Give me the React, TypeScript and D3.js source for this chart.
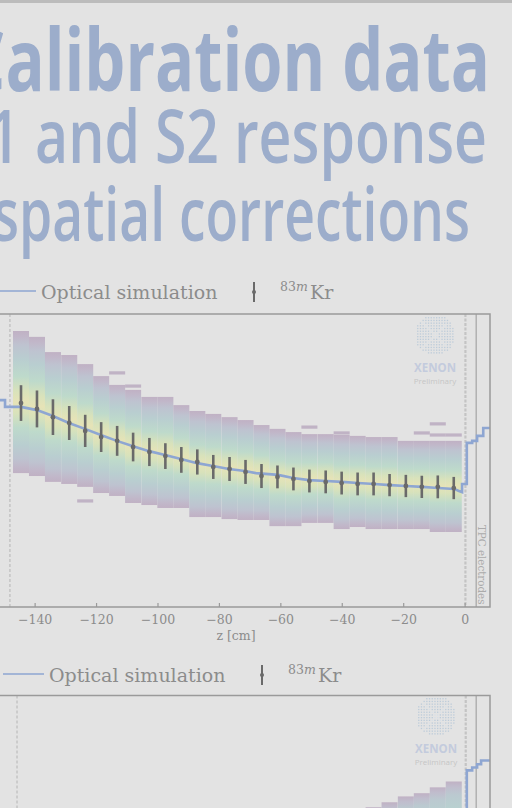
import React from 'react';
import * as d3 from 'd3';

const W = 512;
const H = 808;
const BG = '#e3e3e3';

// z bin centres [cm] of the Kr calibration profile
const zCenters = [-144.6, -139.4, -134.2, -128.9, -123.7, -118.5, -113.3, -108.1, -102.8, -97.6, -92.4, -87.2, -82.0, -76.7, -71.5, -66.3, -61.1, -55.9, -50.7, -45.4, -40.2, -35.0, -29.8, -24.6, -19.3, -14.1, -8.9, -3.7];
const binWidth = 5.22;

// 83mKr S1 response (relative) and its spread per z bin
const krS1 = [1.296, 1.276, 1.248, 1.228, 1.201, 1.180, 1.167, 1.146, 1.129, 1.115, 1.102, 1.095, 1.078, 1.071, 1.061, 1.047, 1.044, 1.037, 1.030, 1.027, 1.023, 1.020, 1.020, 1.016, 1.013, 1.010, 1.010, 1.006];
const krS1Err = [0.061, 0.063, 0.061, 0.058, 0.055, 0.051, 0.051, 0.049, 0.048, 0.044, 0.044, 0.043, 0.041, 0.041, 0.041, 0.041, 0.039, 0.039, 0.039, 0.039, 0.039, 0.039, 0.039, 0.038, 0.038, 0.038, 0.039, 0.038];

// populated extent of the 2D histogram per z bin
const bandHigh = [1.542, 1.522, 1.470, 1.460, 1.429, 1.388, 1.358, 1.341, 1.317, 1.317, 1.289, 1.269, 1.259, 1.248, 1.238, 1.221, 1.208, 1.197, 1.190, 1.190, 1.187, 1.184, 1.180, 1.180, 1.167, 1.167, 1.167, 1.167];
const bandLow = [1.057, 1.047, 1.027, 1.020, 1.010, 0.989, 0.979, 0.955, 0.948, 0.938, 0.938, 0.907, 0.907, 0.900, 0.897, 0.897, 0.876, 0.876, 0.887, 0.887, 0.866, 0.873, 0.866, 0.866, 0.866, 0.866, 0.856, 0.856];

// sparse histogram cells outside the main band
const strayBin = [6, 7, 4, 18, 20, 25, 26, 26, 27];
const strayS1 = [1.399, 1.354, 0.962, 1.214, 1.194, 1.194, 1.225, 1.187, 1.187];
const cellHalf = 0.0055;

// optical simulation (step profile)
const simZ = [-157.3, -149.8, -149.8, -144.6, -139.4, -134.2, -129.0, -123.8, -118.6, -113.4, -108.1, -102.9, -97.7, -92.5, -87.3, -82.1, -76.9, -71.7, -68.1, -60.9, -56.0, -50.8, -45.3, -40.1, -34.9, -29.6, -24.4, -19.2, -14.0, -8.8, -3.6, -2.0, -1.0, -1.0, 0.55, 0.55, 2.3, 2.3, 3.9, 3.9, 5.9, 5.9, 8.1];
const simV = [1.306, 1.306, 1.283, 1.283, 1.272, 1.252, 1.228, 1.208, 1.187, 1.167, 1.149, 1.132, 1.119, 1.105, 1.091, 1.081, 1.071, 1.064, 1.057, 1.051, 1.040, 1.033, 1.030, 1.027, 1.023, 1.020, 1.016, 1.013, 1.010, 1.006, 1.003, 0.996, 0.992, 1.020, 1.020, 1.160, 1.160, 1.167, 1.167, 1.184, 1.184, 1.211, 1.211];

// second panel
const lowerBins = [22, 23, 24, 25, 26, 27];
const lowerHigh = [1.218, 1.235, 1.255, 1.266, 1.286, 1.306];
const lowerLow = [0.88, 0.89, 0.90, 0.91, 0.92, 0.93];
const lowerSimZ = [0.55, 0.55, 2.3, 2.3, 3.9, 3.9, 5.2, 5.2, 8.1];
const lowerSimV = [1.2, 1.344, 1.344, 1.354, 1.354, 1.365, 1.365, 1.378, 1.378];

const xTicks = [-140, -120, -100, -80, -60, -40, -20, 0];

const titleColor = '#9cadcb';
const axisColor = '#9a9a9a';
const textColor = '#8c8c8c';
const simColor = '#8ea6d2';
const krColor = '#6a6a6a';
const serif = "'DejaVu Serif', serif";

const tint = (t: number) => d3.interpolateRgb(BG, d3.interpolateViridis(t))(0.22);
const bandStops: [number, number][] = [
  [0, 0.0], [0.04, 0.08], [0.1, 0.25], [0.2, 0.45], [0.32, 0.68], [0.42, 0.88], [0.5, 0.98],
  [0.58, 0.88], [0.68, 0.68], [0.8, 0.45], [0.9, 0.25], [0.96, 0.08], [1, 0.0],
];
const lowerStops: [number, number][] = [[0, 0.0], [0.05, 0.15], [0.12, 0.35], [0.25, 0.5], [0.5, 0.75], [1, 0.95]];

const fmt = (v: number) => (v < 0 ? '\u2212' + Math.abs(v) : String(v));

function Watermark({ cx, cy }: { cx: number; cy: number }) {
  const r = 20;
  const step = 2.7;
  const dots: JSX.Element[] = [];
  for (let gx = -r; gx <= r; gx += step) {
    for (let gy = -r; gy <= r; gy += step) {
      if (gx * gx + gy * gy > r * r) continue;
      const onX = Math.abs(Math.abs(gx) - Math.abs(gy)) < 2 && Math.abs(gx) < 12;
      dots.push(<rect key={`${gx}-${gy}`} x={cx + gx - 0.6} y={cy + gy - 0.6} width={1.3} height={1.3} fill={onX ? '#d6dee6' : '#bccbd9'} />);
    }
  }
  return (
    <g>
      {dots}
      <text x={cx} y={cy + 37} textAnchor="middle" fontFamily="'Open Sans', sans-serif" fontWeight={700} fontSize={11.5} fill="#c3cbdd">XENON</text>
      <text x={cx} y={cy + 49} textAnchor="middle" fontFamily="'Open Sans', sans-serif" fontSize={8} fill="#c6c6c6">Preliminary</text>
    </g>
  );
}

function Legend({ x0, y }: { x0: number; y: number }) {
  return (
    <g>
      <line x1={x0 - 5} x2={x0 + 36} y1={y - 8} y2={y - 8} stroke={simColor} strokeWidth={1.6} />
      <text x={x0 + 41} y={y} fontFamily={serif} fontSize={19} fill={textColor}>Optical simulation</text>
      <line x1={x0 + 254} x2={x0 + 254} y1={y - 17} y2={y + 3} stroke={krColor} strokeWidth={2} />
      <circle cx={x0 + 254} cy={y - 7} r={2} fill={krColor} />
      <text x={x0 + 280} y={y - 8} fontFamily={serif} fontSize={12.5} fill={textColor}>
        83<tspan fontStyle="italic">m</tspan>
      </text>
      <text x={x0 + 310} y={y} fontFamily={serif} fontSize={19} fill={textColor}>Kr</text>
    </g>
  );
}

export default function App() {
  const x = d3.scaleLinear().domain([-157.3, 8.1]).range([-18, 490]);
  const yTop = d3.scaleLinear().domain([0.6, 1.6]).range([607, 314]);
  const yLow = d3.scaleLinear().domain([0.6, 1.6]).range([988, 695.5]);
  const left = x.range()[0];
  const right = x.range()[1];

  const simLine = d3.line<number>().x((_, i) => x(simZ[i])).y((v) => yTop(v));
  const lowerLine = d3.line<number>().x((_, i) => x(lowerSimZ[i])).y((v) => yLow(v));

  return (
    <svg width={W} height={H} style={{ position: 'absolute', left: 0, top: 0 }} xmlns="http://www.w3.org/2000/svg">
      <defs>
        <linearGradient id="band" x1="0" y1="0" x2="0" y2="1">
          {bandStops.map(([o, t], i) => (
            <stop key={i} offset={o} stopColor={tint(t)} />
          ))}
        </linearGradient>
        <linearGradient id="bandLower" x1="0" y1="0" x2="0" y2="1">
          {lowerStops.map(([o, t], i) => (
            <stop key={i} offset={o} stopColor={tint(t)} />
          ))}
        </linearGradient>
        <clipPath id="clipTop">
          <rect x={left} y={314} width={right - left} height={293} />
        </clipPath>
        <clipPath id="clipLow">
          <rect x={left} y={695.5} width={right - left} height={293} />
        </clipPath>
      </defs>
      <rect width={W} height={H} fill={BG} />
      <rect width={W} height={3} fill="#bcbcbc" />

      {/* headline */}
      <g fill={titleColor} fontFamily="'Open Sans', sans-serif">
        <text x={-36} y={91} fontSize={86} fontWeight={700} textLength={526} lengthAdjust="spacingAndGlyphs">Calibration data</text>
        <text x={-44} y={163} fontSize={74} fontWeight={600} textLength={531} lengthAdjust="spacingAndGlyphs">S1 and S2 response</text>
        <text x={-7} y={241} fontSize={75} fontWeight={600} textLength={477} lengthAdjust="spacingAndGlyphs">spatial corrections</text>
      </g>

      {/* upper panel */}
      <Legend x0={0} y={299} />
      <g clipPath="url(#clipTop)">
        <Watermark cx={435} cy={335} />
        {zCenters.map((z, i) => (
          <rect key={i} x={x(z - binWidth / 2)} width={x(z + binWidth / 2) - x(z - binWidth / 2)} y={yTop(bandHigh[i])} height={yTop(bandLow[i]) - yTop(bandHigh[i])} fill="url(#band)" />
        ))}
        {strayBin.map((b, i) => (
          <rect key={`s${i}`} x={x(zCenters[b] - binWidth / 2)} width={x(zCenters[b] + binWidth / 2) - x(zCenters[b] - binWidth / 2)} y={yTop(strayS1[i] + cellHalf)} height={yTop(strayS1[i] - cellHalf) - yTop(strayS1[i] + cellHalf)} fill={tint(0.02)} />
        ))}
        <line x1={x(-148.2)} x2={x(-148.2)} y1={314} y2={607} stroke="#b4b4b4" strokeWidth={1} strokeDasharray="3,2" />
        <line x1={x(0.1)} x2={x(0.1)} y1={314} y2={607} stroke="#c4c4c4" strokeWidth={2.2} strokeDasharray="3,1.5" />
        <line x1={x(3.6)} x2={x(3.6)} y1={314} y2={607} stroke="#a4a4a4" strokeWidth={1.2} />
        <path d={simLine(simV) ?? ''} fill="none" stroke={simColor} strokeWidth={2.6} strokeLinejoin="miter" />
        {zCenters.map((z, i) => (
          <g key={`k${i}`}>
            <line x1={x(z)} x2={x(z)} y1={yTop(krS1[i] + krS1Err[i])} y2={yTop(krS1[i] - krS1Err[i])} stroke={krColor} strokeWidth={2.6} />
            <circle cx={x(z)} cy={yTop(krS1[i])} r={2.4} fill={krColor} />
          </g>
        ))}
        <text transform={`translate(${x(3.6) + 2},525) rotate(90)`} fontFamily={serif} fontSize={10.3} fill="#ababab">TPC electrodes</text>
      </g>
      <rect x={left} y={314} width={right - left} height={293} fill="none" stroke={axisColor} strokeWidth={1.5} />
      {xTicks.map((t) => (
        <g key={t}>
          <line x1={x(t)} x2={x(t)} y1={607} y2={603} stroke={axisColor} strokeWidth={1.2} />
          <text x={x(t)} y={623.5} textAnchor="middle" fontFamily={serif} fontSize={12.5} fill={textColor}>{fmt(t)}</text>
        </g>
      ))}
      <text x={(left + right) / 2} y={640} textAnchor="middle" fontFamily={serif} fontSize={12.5} fill={textColor}>z [cm]</text>

      {/* lower panel */}
      <Legend x0={8} y={682} />
      <g clipPath="url(#clipLow)">
        <Watermark cx={436} cy={716} />
        {lowerBins.map((b, i) => (
          <rect key={i} x={x(zCenters[b] - binWidth / 2)} width={x(zCenters[b] + binWidth / 2) - x(zCenters[b] - binWidth / 2)} y={yLow(lowerHigh[i])} height={yLow(lowerLow[i]) - yLow(lowerHigh[i])} fill="url(#bandLower)" />
        ))}
        <line x1={x(-145.9)} x2={x(-145.9)} y1={695.5} y2={988} stroke="#b4b4b4" strokeWidth={1} strokeDasharray="3,2" />
        <line x1={x(0.2)} x2={x(0.2)} y1={695.5} y2={988} stroke="#c4c4c4" strokeWidth={2.2} strokeDasharray="3,1.5" />
        <line x1={x(3.6)} x2={x(3.6)} y1={695.5} y2={988} stroke="#a4a4a4" strokeWidth={1.2} />
        <path d={lowerLine(lowerSimV) ?? ''} fill="none" stroke={simColor} strokeWidth={2.6} />
      </g>
      <rect x={left} y={695.5} width={right - left} height={293} fill="none" stroke={axisColor} strokeWidth={1.5} />
    </svg>
  );
}
